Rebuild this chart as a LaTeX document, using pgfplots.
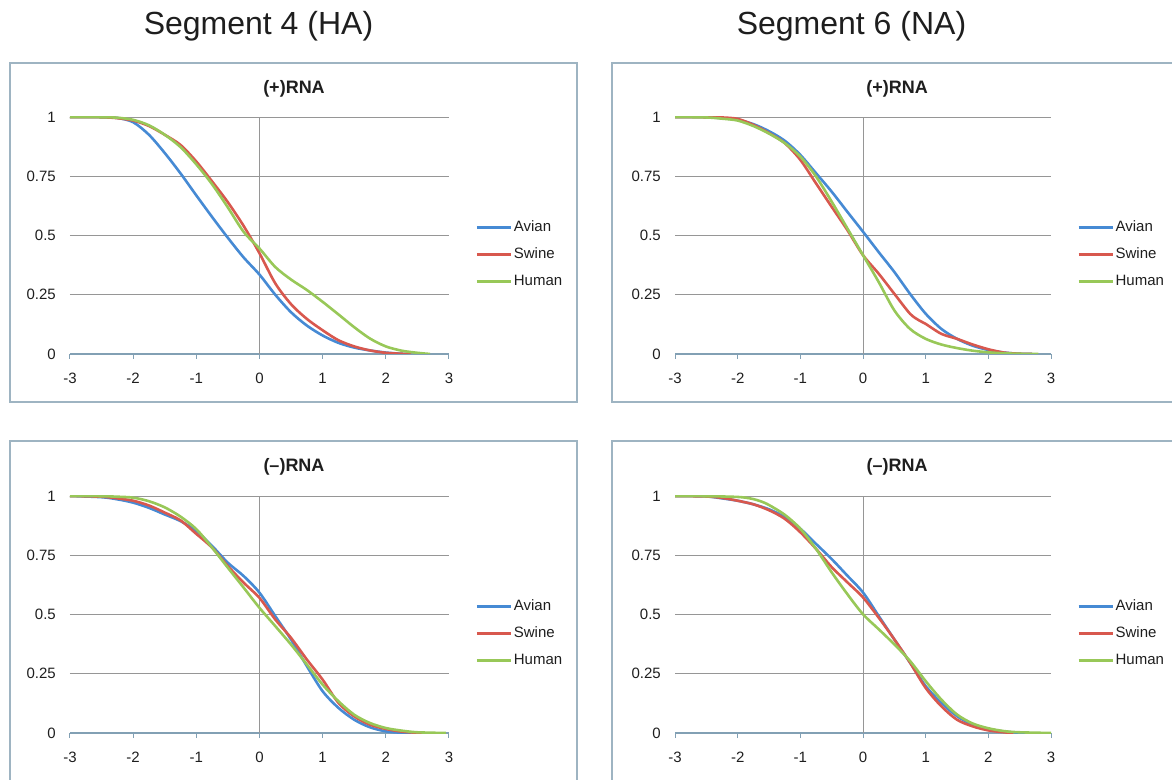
\documentclass[border=0pt]{standalone}
\usepackage{fontspec}
\setmainfont{Liberation Sans}
\usepackage{pgfplots}
\pgfplotsset{compat=1.18}

\definecolor{avian}{RGB}{70,138,212}
\definecolor{swine}{RGB}{216,88,78}
\definecolor{human}{RGB}{152,200,88}
\definecolor{framec}{RGB}{158,180,194}
\definecolor{gridc}{RGB}{150,150,150}
\definecolor{axisc}{RGB}{130,160,180}
\definecolor{txt}{RGB}{30,30,30}

\pgfplotsset{
  panel/.style={
    scale only axis, height=237pt, anchor=south west,
    xmin=-3, xmax=3, ymin=0, ymax=1,
    axis x line*=bottom, axis y line*=left,
    x axis line style={draw=axisc, line width=1.2pt},
    y axis line style={draw=none},
    xtick={-3,...,3}, xticklabels={-3,-2,-1,0,1,2,3},
    ytick={0,0.25,0.5,0.75,1}, yticklabels={0,0.25,0.5,0.75,1},
    tick align=outside, major tick length=5pt,
    xtick style={draw=axisc, line width=1pt},
    ytick style={draw=none},
    ymajorgrids, major grid style={draw=gridc, line width=0.9pt},
    extra x ticks={0}, extra x tick labels={},
    extra x tick style={grid=major, major grid style={draw=gridc, line width=0.9pt}},
    ticklabel style={font=\fontsize{15}{18}\selectfont, text=txt, inner sep=0pt},
    xticklabel style={yshift=-14pt},
    yticklabel style={xshift=-9pt},
    legend cell align=left,
    legend image code/.code={\draw[#1, line width=3pt] (0pt,0pt) -- (34pt,0pt);},
    legend style={at={(axis description cs:1.069,0.418)}, anchor=west,
      draw=none, fill=none, inner sep=0pt, row sep=11pt,
      font=\fontsize{15}{18}\selectfont,
      nodes={inner sep=1.5pt, text height=10pt, text depth=3pt, text=txt}},
    every axis plot/.append style={line width=2.6pt, smooth},
  }
}

\begin{document}
\begin{tikzpicture}
\useasboundingbox (0,0) rectangle (1172pt,779pt);
\clip (0,0) rectangle (1172pt,779pt);

% frames
\draw[framec, line width=1.8pt] (10pt,377pt) rectangle (577pt,716pt);
\draw[framec, line width=1.8pt] (612pt,377pt) rectangle (1185pt,716pt);
\draw[framec, line width=1.8pt] (10pt,-10pt) rectangle (577pt,338pt);
\draw[framec, line width=1.8pt] (612pt,-10pt) rectangle (1185pt,338pt);

% column titles
\node[anchor=base, font=\fontsize{32}{36}\selectfont, text=txt] at (258.5pt,744pt) {Segment 4 (HA)};
\node[anchor=base, font=\fontsize{32}{36}\selectfont, text=txt] at (851.5pt,744pt) {Segment 6 (NA)};

% panel titles
\node[anchor=base, font=\bfseries\fontsize{18}{20}\selectfont, text=txt] at (294pt,685pt) {(+)RNA};
\node[anchor=base, font=\bfseries\fontsize{18}{20}\selectfont, text=txt] at (897pt,685pt) {(+)RNA};
\node[anchor=base, font=\bfseries\fontsize{18}{20}\selectfont, text=txt] at (294pt,307pt) {(–)RNA};
\node[anchor=base, font=\bfseries\fontsize{18}{20}\selectfont, text=txt] at (897pt,307pt) {(–)RNA};

% Segment 4, (+)RNA
\begin{axis}[panel, width=379pt, at={(70pt,425pt)}]
\addplot[avian] coordinates {(-3,1) (-2.5,0.999) (-2.25,0.996) (-2,0.978) (-1.75,0.925) (-1.5,0.848) (-1.25,0.762) (-1,0.669) (-0.75,0.578) (-0.5,0.49) (-0.25,0.407) (0,0.335) (0.25,0.25) (0.5,0.176) (0.75,0.12) (1,0.078) (1.25,0.047) (1.5,0.027) (1.75,0.015) (2,0.006) (2.25,0.001) (2.4,0)};
\addlegendentry{Avian}
\addplot[swine] coordinates {(-3,1) (-2.5,0.999) (-2.25,0.995) (-2,0.985) (-1.75,0.962) (-1.5,0.925) (-1.25,0.882) (-1,0.812) (-0.75,0.728) (-0.5,0.64) (-0.25,0.54) (0,0.425) (0.25,0.298) (0.5,0.21) (0.75,0.148) (1,0.1) (1.25,0.058) (1.5,0.032) (1.75,0.015) (2,0.005) (2.25,0.001) (2.4,0)};
\addlegendentry{Swine}
\addplot[human] coordinates {(-3,1) (-2.5,0.999) (-2.25,0.997) (-2,0.988) (-1.75,0.965) (-1.5,0.925) (-1.25,0.873) (-1,0.8) (-0.75,0.716) (-0.5,0.618) (-0.25,0.515) (0,0.445) (0.25,0.367) (0.5,0.314) (0.75,0.27) (1,0.22) (1.25,0.167) (1.5,0.113) (1.75,0.065) (2,0.032) (2.25,0.014) (2.5,0.005) (2.7,0)};
\addlegendentry{Human}
\end{axis}

% Segment 6, (+)RNA
\begin{axis}[panel, width=376pt, at={(675pt,425pt)}]
\addplot[avian] coordinates {(-3,1) (-2.5,0.999) (-2.25,0.995) (-2,0.988) (-1.75,0.97) (-1.5,0.94) (-1.25,0.9) (-1,0.84) (-0.75,0.763) (-0.5,0.685) (-0.25,0.6) (0,0.516) (0.25,0.43) (0.5,0.346) (0.75,0.254) (1,0.17) (1.25,0.106) (1.5,0.064) (1.75,0.035) (2,0.017) (2.25,0.006) (2.5,0.001) (2.7,0)};
\addlegendentry{Avian}
\addplot[swine] coordinates {(-3,1) (-2.5,0.999) (-2.25,0.998) (-2,0.992) (-1.75,0.967) (-1.5,0.932) (-1.25,0.89) (-1,0.819) (-0.75,0.72) (-0.5,0.621) (-0.25,0.523) (0,0.417) (0.25,0.339) (0.5,0.254) (0.75,0.17) (0.9,0.141) (1,0.127) (1.25,0.085) (1.5,0.064) (1.75,0.04) (2,0.02) (2.25,0.006) (2.5,0.001) (2.7,0)};
\addlegendentry{Swine}
\addplot[human] coordinates {(-3,1) (-2.5,0.998) (-2.25,0.993) (-2,0.985) (-1.75,0.962) (-1.5,0.93) (-1.25,0.89) (-1,0.833) (-0.75,0.749) (-0.5,0.643) (-0.25,0.53) (0,0.417) (0.25,0.304) (0.5,0.184) (0.75,0.106) (1,0.064) (1.25,0.04) (1.5,0.025) (1.75,0.014) (2,0.007) (2.25,0.003) (2.5,0.001) (2.8,0)};
\addlegendentry{Human}
\end{axis}

% Segment 4, (-)RNA
\begin{axis}[panel, width=379pt, at={(70pt,46pt)}]
\addplot[avian] coordinates {(-3,1) (-2.5,0.995) (-2.25,0.986) (-2,0.972) (-1.75,0.95) (-1.5,0.922) (-1.25,0.894) (-1,0.852) (-0.75,0.789) (-0.5,0.718) (-0.25,0.662) (0,0.592) (0.25,0.493) (0.5,0.394) (0.75,0.282) (1,0.176) (1.25,0.106) (1.5,0.056) (1.75,0.024) (2,0.007) (2.25,0.001) (2.4,0)};
\addlegendentry{Avian}
\addplot[swine] coordinates {(-3,1) (-2.5,0.997) (-2.25,0.99) (-2,0.98) (-1.75,0.96) (-1.5,0.93) (-1.25,0.897) (-1,0.84) (-0.75,0.782) (-0.5,0.704) (-0.25,0.634) (0,0.57) (0.25,0.479) (0.5,0.401) (0.75,0.31) (1,0.225) (1.25,0.127) (1.5,0.07) (1.75,0.035) (2,0.017) (2.25,0.006) (2.5,0.001) (2.6,0)};
\addlegendentry{Swine}
\addplot[human] coordinates {(-3,1) (-2.5,0.999) (-2.25,0.997) (-2,0.993) (-1.75,0.978) (-1.5,0.952) (-1.25,0.913) (-1,0.86) (-0.75,0.782) (-0.5,0.697) (-0.25,0.613) (0,0.528) (0.25,0.451) (0.5,0.373) (0.75,0.289) (1,0.204) (1.25,0.134) (1.5,0.077) (1.75,0.042) (2,0.021) (2.25,0.01) (2.5,0.003) (2.95,0)};
\addlegendentry{Human}
\end{axis}

% Segment 6, (-)RNA
\begin{axis}[panel, width=376pt, at={(675pt,46pt)}]
\addplot[avian] coordinates {(-3,1) (-2.5,0.998) (-2.25,0.99) (-2,0.98) (-1.75,0.965) (-1.5,0.944) (-1.25,0.911) (-1,0.862) (-0.75,0.798) (-0.5,0.734) (-0.25,0.664) (0,0.593) (0.25,0.494) (0.5,0.395) (0.75,0.297) (1,0.198) (1.25,0.127) (1.5,0.071) (1.75,0.035) (2,0.017) (2.25,0.006) (2.5,0.001) (2.6,0)};
\addlegendentry{Avian}
\addplot[swine] coordinates {(-3,1) (-2.5,0.998) (-2.25,0.992) (-2,0.98) (-1.75,0.965) (-1.5,0.94) (-1.25,0.904) (-1,0.847) (-0.75,0.777) (-0.5,0.7) (-0.25,0.636) (0,0.572) (0.25,0.487) (0.5,0.395) (0.75,0.297) (1,0.19) (1.25,0.113) (1.5,0.056) (1.75,0.028) (2,0.011) (2.25,0.003) (2.4,0)};
\addlegendentry{Swine}
\addplot[human] coordinates {(-3,1) (-2.5,0.999) (-2.25,0.998) (-2,0.996) (-1.875,0.993) (-1.75,0.987) (-1.625,0.977) (-1.5,0.962) (-1.25,0.921) (-1,0.862) (-0.75,0.777) (-0.5,0.678) (-0.25,0.586) (0,0.501) (0.25,0.438) (0.5,0.374) (0.75,0.304) (1,0.219) (1.25,0.141) (1.5,0.078) (1.75,0.04) (2,0.02) (2.25,0.008) (2.5,0.003) (3,0)};
\addlegendentry{Human}
\end{axis}
\end{tikzpicture}
\end{document}
